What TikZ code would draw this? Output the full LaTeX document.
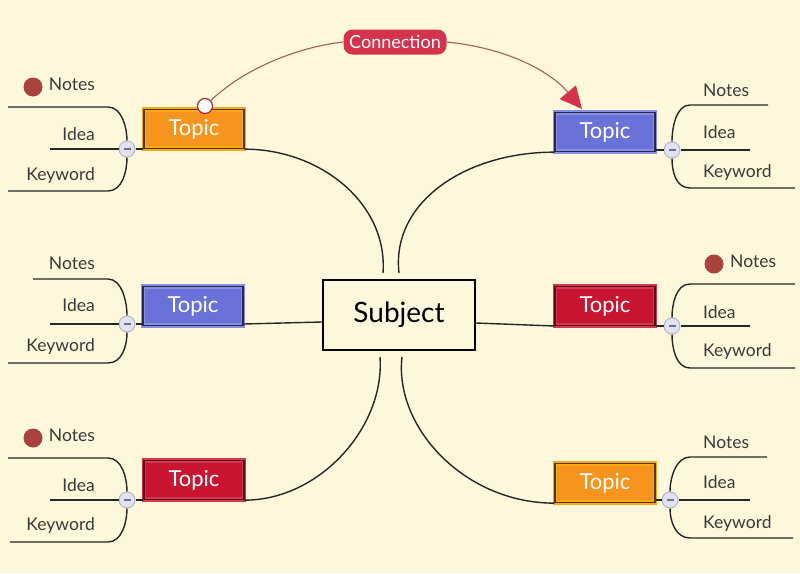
\documentclass[tikz,border=0pt]{standalone}
\usepackage{fontspec}
\setmainfont{Lato}
\usepackage{tikz}
\usetikzlibrary{arrows.meta,positioning}
\definecolor{bgcream}{HTML}{FDF8DC}
\definecolor{inkgray}{HTML}{3A3A3A}
\definecolor{topicorange}{HTML}{F7941D}
\definecolor{topicblue}{HTML}{6A72DA}
\definecolor{topicred}{HTML}{CA1532}
\definecolor{linkred}{HTML}{D5334D}
\definecolor{linkline}{HTML}{A85C5C}
\definecolor{notebrown}{HTML}{A9423C}
\tikzset{topic box/.style={rectangle,minimum width=100pt,minimum height=39pt,inner sep=0pt,line width=1.3pt,double distance=1.5pt,text=white,font=\fontsize{22}{26}\selectfont},
	orange topic/.style={topic box,fill=topicorange,draw=topicorange!80!yellow,double=topicorange!35!black},
	blue topic/.style={topic box,fill=topicblue,draw=topicblue!80!white,double=topicblue!35!black},
	red topic/.style={topic box,fill=topicred,draw=topicred!85!white,double=topicred!45!black},
	subject box/.style={rectangle,draw=black,line width=2.2pt,minimum width=152pt,minimum height=70pt,font=\fontsize{28}{32}\selectfont},
	minus dot/.style={circle,draw=black!28,line width=1pt,fill=white!88!blue,minimum size=16pt,inner sep=0pt},
	note dot/.style={circle,fill=notebrown,minimum size=19pt,inner sep=0pt},
	leaf/.style={font=\fontsize{17.5}{21}\selectfont,text=inkgray,inner sep=0pt},
	branch/.style={line width=1.4pt,draw=black!85},
	link/.style={line width=1.1pt,draw=linkline}}
\newcommand{\minusbar}{\textcolor{black!55}{\rule[0.15ex]{7pt}{1.8pt}}}

\begin{document}
\begin{tikzpicture}[x=1pt,y=-1pt]
	\useasboundingbox[fill=bgcream] (0,0) rectangle (800,573);
	
	\node (s)	[subject box] at	(399,315)	{Subject};
	\node (tl)	[orange topic] at	(194,129)	{Topic};
	\node (ml)	[blue topic] at		(193,306)	{Topic};
	\node (bl)	[red topic] at		(194,480)	{Topic};
	\node (tr)	[blue topic] at		(605,132)	{Topic};
	\node (mr)	[red topic] at		(605,306)	{Topic};
	\node (br)	[orange topic] at	(605,483)	{Topic};
	
	\node (mtl)	[minus dot] at	(127,149)	{\minusbar};
	\node (mml)	[minus dot] at	(127,324)	{\minusbar};
	\node (mbl)	[minus dot] at	(127,500)	{\minusbar};
	\node (mtr)	[minus dot] at	(672,150)	{\minusbar};
	\node (mmr)	[minus dot] at	(672,326)	{\minusbar};
	\node (mbr)	[minus dot] at	(670,500)	{\minusbar};
	
	\coordinate (s1)	at	(383,273);
	\coordinate (s2)	at	(399,273);
	\coordinate (s3)	at	(380,357);
	\coordinate (s4)	at	(402,357);
	
	% leaves, left
	\node [note dot] at (33,87) {};
	\node [leaf,anchor=east]	at	(95,84)		{Notes};
	\node [leaf,anchor=east]	at	(95,134)	{Idea};
	\node [leaf,anchor=east]	at	(95,176)	{Keyword};
	\node [leaf,anchor=east]	at	(95,263)	{Notes};
	\node [leaf,anchor=east]	at	(95,305)	{Idea};
	\node [leaf,anchor=east]	at	(95,347)	{Keyword};
	\node [note dot] at (33,438) {};
	\node [leaf,anchor=east]	at	(95,435)	{Notes};
	\node [leaf,anchor=east]	at	(95,485)	{Idea};
	\node [leaf,anchor=east]	at	(95,526)	{Keyword};
	
	% leaves, right
	\node [leaf,anchor=west]	at	(703,90)	{Notes};
	\node [leaf,anchor=west]	at	(703,132)	{Idea};
	\node [leaf,anchor=west]	at	(703,173)	{Keyword};
	\node [note dot] at (714,264) {};
	\node [leaf,anchor=west]	at	(730,261)	{Notes};
	\node [leaf,anchor=west]	at	(703,312)	{Idea};
	\node [leaf,anchor=west]	at	(703,352)	{Keyword};
	\node [leaf,anchor=west]	at	(703,442)	{Notes};
	\node [leaf,anchor=west]	at	(703,482)	{Idea};
	\node [leaf,anchor=west]	at	(703,524)	{Keyword};
	
	% branch lines
	\draw [branch] (8,107) -- (108,107) .. controls (122,107) and (127,128) .. (mtl.north);
	\draw [branch] (mtl.south) .. controls (127,172) and (122,191) .. (108,191) -- (8,191);
	\draw [branch] (50,149) -- (mtl.west) (mtl.east) -- (mtl -| tl.west);
	\draw [branch] (33,279) -- (108,279) .. controls (122,279) and (127,302) .. (mml.north);
	\draw [branch] (mml.south) .. controls (127,346) and (122,363) .. (108,363) -- (8,363);
	\draw [branch] (50,324) -- (mml.west) (mml.east) -- (mml -| ml.west);
	\draw [branch] (8,458) -- (108,458) .. controls (122,458) and (127,478) .. (mbl.north);
	\draw [branch] (mbl.south) .. controls (127,522) and (122,542) .. (108,542) -- (10,542);
	\draw [branch] (50,500) -- (mbl.west) (mbl.east) -- (mbl -| bl.west);
	
	\draw [branch] (768,105) -- (690,105) .. controls (676,105) and (672,128) .. (mtr.north);
	\draw [branch] (mtr.south) .. controls (672,172) and (676,188) .. (690,188) -- (795,188);
	\draw [branch] (750,150) -- (mtr.east) (mtr.west) -- (mtr -| tr.east);
	\draw [branch] (795,284) -- (690,284) .. controls (676,284) and (672,304) .. (mmr.north);
	\draw [branch] (mmr.south) .. controls (672,348) and (676,368) .. (690,368) -- (795,368);
	\draw [branch] (750,326) -- (mmr.east) (mmr.west) -- (mmr -| mr.east);
	\draw [branch] (767,457) -- (690,457) .. controls (676,457) and (670,478) .. (mbr.north);
	\draw [branch] (mbr.south) .. controls (670,522) and (676,538) .. (690,538) -- (793,538);
	\draw [branch] (750,500) -- (mbr.east) (mbr.west) -- (mbr -| br.east);
	
	% topics to subject
	\draw [branch] (tl.south east) .. controls +(75,0) and +(5,-70) .. (s1);
	\draw [branch] (tr.south west) .. controls +(-90,0) and +(-8,-70) .. (s2);
	\draw [branch] (bl.south east) .. controls +(75,0) and +(5,70) .. (s3);
	\draw [branch] (br.south west) .. controls +(-90,0) and +(-8,70) .. (s4);
	\draw [branch] (ml.east |- mml) -- (s.west |- 0,322);
	\draw [branch] (s.east |- 0,323) -- (mr.west |- mmr);
	
	% connection
	\node (cn)	[rectangle,rounded corners=9pt,fill=linkred,text=white,font=\fontsize{18}{21}\selectfont,minimum width=103pt,minimum height=25pt,inner sep=0pt] at (395,42) {Connection};
	\node (ci)	[circle,draw=linkred!80!black,fill=white,line width=1.2pt,minimum size=15pt,inner sep=0pt] at (205,106) {};
	\coordinate (ct) at (582,109);
	\draw [link,-{Triangle[length=22pt,width=21pt,color=linkred]}] (cn.east) .. controls +(60,6) and +(-32,-38) .. (ct);
	\draw [link] (ci) .. controls +(40,-38) and +(-45,5) .. (cn.west);
\end{tikzpicture}
\end{document}
